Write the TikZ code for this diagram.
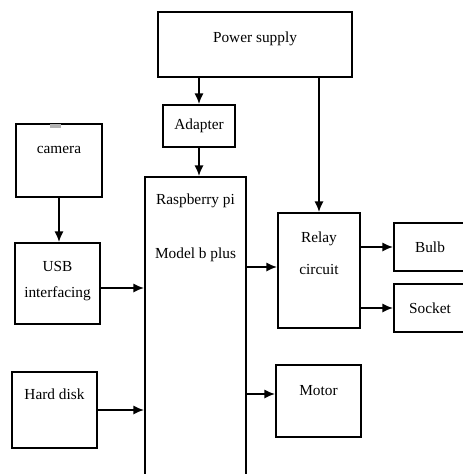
\documentclass[tikz,border=0pt]{standalone}
\usepackage{fontspec}
\setmainfont{Liberation Serif}
\usetikzlibrary{arrows.meta}
\tikzset{blk/.style={draw, inner sep=0pt},
  intext/.style={anchor=north, inner sep=0pt, align=center, yshift=#1},
  intext/.default=-13pt}

\begin{document}
\begin{tikzpicture}[x=0.75pt, y=-0.75pt, line width=1.4pt, >={Latex[length=8pt,width=7pt]}, font=\fontsize{11.5}{19.5}\selectfont]
      \useasboundingbox (0,0) rectangle (463,474);
      \clip (0,0) rectangle (463,474);

      \node [blk, minimum width=145.5pt, minimum height=48.75pt, label={[intext=-15pt]north:Power supply}] (power) at (255,44.5) {};
      \node [blk, minimum width=54pt, minimum height=31.5pt] (adapter) at (199,126) {Adapter};
      \node [blk, minimum width=64.5pt, minimum height=54.75pt, label={[intext=-17pt]north:camera}] (camera) at (59,160.5) {};
      \fill [gray!60] (50,124) rectangle (61,128);
      \node [blk, minimum width=63.75pt, minimum height=60.75pt, label={[intext=-14pt]north:{USB\\interfacing}}] (usb) at (57.5,283.5) {};
      \node [blk, minimum width=63.75pt, minimum height=57pt, label={[intext]north:Hard disk}] (hd) at (54.5,410) {};
      \node [blk, minimum width=75.75pt, minimum height=242.25pt, label={[intext]north:{Raspberry pi\\[21pt]Model b plus}}] (rpi) at (195.5,338.5) {};
      \node [blk, minimum width=61.5pt, minimum height=86.25pt, label={[intext=-14.5pt]north:{Relay\\[4pt]circuit}}] (relay) at (319,270.5) {};
      \node [blk, minimum width=54pt, minimum height=36pt] (bulb) at (430,247) {Bulb};
      \node [blk, minimum width=54pt, minimum height=36pt] (socket) at (430,308) {Socket};
      \node [blk, minimum width=63.75pt, minimum height=54pt, label={[intext=-15.5pt]north:Motor}] (motor) at (318.5,401) {};

      \draw [->] (power.south -| adapter.north) -- (adapter.north);
      \draw [->] (adapter.south) -- (adapter.south |- rpi.north);
      \draw [->] (power.south -| relay.north) -- (relay.north);
      \draw [->] (camera.south) -- (camera.south |- usb.north);
      \draw [->] ([shift={(0,4.5)}]usb.east) -- ([shift={(0,4.5)}]usb.east -| rpi.west);
      \draw [->] (hd.east) -- (hd.east -| rpi.west);
      \draw [->] ([shift={(0,-3.5)}]relay.west -| rpi.east) -- ([shift={(0,-3.5)}]relay.west);
      \draw [->] ([shift={(0,-7)}]motor.west -| rpi.east) -- ([shift={(0,-7)}]motor.west);
      \draw [->] (bulb.west -| relay.east) -- (bulb.west);
      \draw [->] (socket.west -| relay.east) -- (socket.west);
    \end{tikzpicture}
\end{document}
